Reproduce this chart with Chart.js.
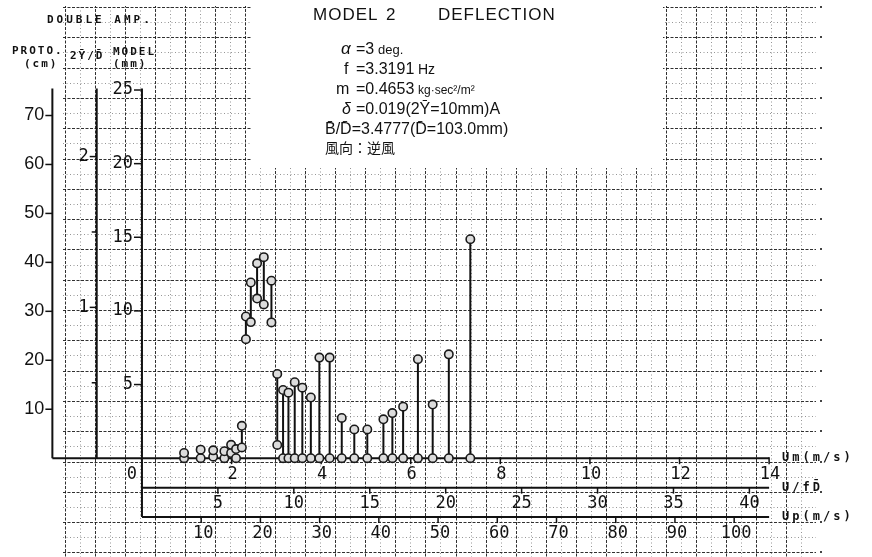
<!DOCTYPE html>
<html>
<head>
<meta charset="utf-8">
<script src="https://cdn.jsdelivr.net/npm/chart.js@4.4.0/dist/chart.umd.min.js"></script>
<style>
  html, body { margin: 0; padding: 0; background: #fff; }
  #myChart { display: block; }
</style>
</head>
<body>
<canvas id="myChart" width="872" height="557"></canvas>
<script>
// wind speed Um (m/s) of each run
const umValues = [0.94, 1.31, 1.59, 1.84, 1.99, 2.10, 2.23, 2.32, 2.43, 2.57, 2.72, 2.89, 3.02, 3.15, 3.27, 3.41, 3.58, 3.77, 3.96, 4.19, 4.46, 4.74, 5.03, 5.39, 5.59, 5.83, 6.16, 6.49, 6.85, 7.33];
// double amp. of model (mm) : lower / upper end of each bar
const lowValues = [0, 0, 0.1, 0, 0.35, 0, 0.73, 8.08, 9.24, 10.84, 10.44, 9.22, 0.9, 0, 0, 0, 0, 0, 0, 0, 0, 0, 0, 0, 0, 0, 0, 0, 0, 0];
const highValues = [0.35, 0.58, 0.53, 0.47, 0.91, 0.62, 2.2, 9.62, 11.93, 13.23, 13.65, 12.05, 5.72, 4.63, 4.45, 5.16, 4.79, 4.12, 6.83, 6.83, 2.73, 1.95, 1.95, 2.64, 3.06, 3.5, 6.72, 3.64, 7.05, 14.87];

// tick labels
const umTicks = [0, 2, 4, 6, 8, 10, 12, 14];
const ufdTicks = [5, 10, 15, 20, 25, 30, 35, 40];
const upTicks = [10, 20, 30, 40, 50, 60, 70, 80, 90, 100];
const modelTicks = [5, 10, 15, 20, 25];
const protoTicks = [10, 20, 30, 40, 50, 60, 70];
const ratioTicks = [1, 2];
const ratioHalfTicks = [0.5, 1.5];

// unit conversions to the model axes (Um m/s, model mm)
const UFD_TO_UM = 0.339;
const UP_TO_UM = 0.1322;
const PROTO_TO_MM = 0.3324;
const RATIO_TO_MM = 10.24;
// where the extra axes sit (in Um / mm)
const PROTO_AT = -2.0, RATIO_AT = -1.01, UFD_AT = -2.0, UP_AT = -4.0, AXIS_TOP = 25.1;

const MONO = '"DejaVu Sans Mono", monospace';
const SANS = '"Liberation Sans", Arial, sans-serif';

// stems: two points per run and a gap
const stemData = [];
const dotData = [];
for (let i = 0; i < umValues.length; i++) {
  stemData.push({x: umValues[i], y: lowValues[i]}, {x: umValues[i], y: highValues[i]}, {x: umValues[i], y: null});
  dotData.push({x: umValues[i], y: lowValues[i]}, {x: umValues[i], y: highValues[i]});
}

const paperGrid = {
  id: 'paperGrid',
  beforeDraw(chart) {
    const c = chart.ctx;
    c.save();
    c.fillStyle = '#fff';
    c.fillRect(0, 0, chart.width, chart.height);
    c.restore();
  },
  beforeDatasetsDraw(chart) {
    const c = chart.ctx;
    c.save();
    c.beginPath();
    c.moveTo(62, 6); c.lineTo(252, 6); c.lineTo(252, 168); c.lineTo(663, 168);
    c.lineTo(663, 6); c.lineTo(816, 6); c.lineTo(816, 557); c.lineTo(62, 557);
    c.closePath();
    c.clip();
    c.lineWidth = 1;
    // fine dotted lines
    c.strokeStyle = 'rgba(80,80,80,0.6)';
    c.setLineDash([1, 2.5]);
    for (let k = -3; k < 22; k++) {
      const gx = Math.round(155 + 30.05 * (k + 0.5)) + 0.5;
      c.beginPath(); c.moveTo(gx, 0); c.lineTo(gx, 557); c.stroke();
    }
    for (let k = -3; k < 16; k++) {
      const gy = Math.round(461.5 - 30.3 * (k + 0.5)) + 0.5;
      c.beginPath(); c.moveTo(0, gy); c.lineTo(872, gy); c.stroke();
    }
    // main lines
    c.strokeStyle = 'rgba(25,25,25,0.9)';
    c.setLineDash([3, 1.5]);
    for (let k = -3; k <= 22; k++) {
      const gx = Math.round(155 + 30.05 * k) + 0.5;
      c.beginPath(); c.moveTo(gx, 0); c.lineTo(gx, 557); c.stroke();
    }
    for (let k = -3; k <= 15; k++) {
      const gy = Math.round(461.5 - 30.3 * k) + 0.5;
      c.beginPath(); c.moveTo(0, gy); c.lineTo(872, gy); c.stroke();
    }
    c.restore();
    // right margin dots
    c.save();
    c.fillStyle = '#444';
    for (let k = -3; k <= 15; k++) {
      c.fillRect(820, Math.round(461.5 - 30.3 * k) - 1, 2, 2);
    }
    c.restore();

    // axes
    const xs = chart.scales.x, ys = chart.scales.y;
    const px = v => xs.getPixelForValue(v);
    const py = v => ys.getPixelForValue(v);
    c.save();
    c.strokeStyle = '#111';
    c.lineWidth = 2;
    const seg = (x1, y1, x2, y2) => { c.beginPath(); c.moveTo(x1, y1); c.lineTo(x2, y2); c.stroke(); };
    seg(px(PROTO_AT), py(0), px(14), py(0));
    seg(px(0), py(AXIS_TOP), px(0), py(UP_AT));
    seg(px(RATIO_AT), py(AXIS_TOP), px(RATIO_AT), py(0));
    seg(px(PROTO_AT), py(AXIS_TOP), px(PROTO_AT), py(0));
    seg(px(0), py(UFD_AT), px(14), py(UFD_AT));
    seg(px(0), py(UP_AT), px(14), py(UP_AT));

    c.lineWidth = 1.5;
    c.fillStyle = '#111';
    c.textBaseline = 'middle';
    // Um
    c.font = '17px ' + MONO;
    c.textAlign = 'center';
    umTicks.forEach(v => {
      if (v > 0) seg(px(v), py(0) - 1, px(v), py(0) + 6);
      c.fillText(String(v), v === 0 ? px(v) - 10 : px(v) + 1, py(0) + 16);
    });
    // U/fD
    ufdTicks.forEach(v => {
      seg(px(v * UFD_TO_UM), py(UFD_AT), px(v * UFD_TO_UM), py(UFD_AT) + 6);
      c.fillText(String(v), px(v * UFD_TO_UM), py(UFD_AT) + 16);
    });
    // Up
    upTicks.forEach(v => {
      seg(px(v * UP_TO_UM), py(UP_AT), px(v * UP_TO_UM), py(UP_AT) + 6);
      c.fillText(String(v), px(v * UP_TO_UM) + 2, py(UP_AT) + 16);
    });
    // model mm
    c.textAlign = 'right';
    modelTicks.forEach(v => {
      seg(px(0) - 8, py(v), px(0), py(v));
      c.fillText(String(v), px(0) - 9, py(v));
    });
    // 2Y/D
    ratioTicks.forEach(v => {
      seg(px(RATIO_AT) - 7, py(v * RATIO_TO_MM), px(RATIO_AT), py(v * RATIO_TO_MM));
      c.fillText(String(v), px(RATIO_AT) - 8, py(v * RATIO_TO_MM));
    });
    ratioHalfTicks.forEach(v => {
      seg(px(RATIO_AT) - 5, py(v * RATIO_TO_MM), px(RATIO_AT), py(v * RATIO_TO_MM));
    });
    // proto cm
    c.font = '18px ' + SANS;
    protoTicks.forEach(v => {
      seg(px(PROTO_AT) - 7, py(v * PROTO_TO_MM), px(PROTO_AT), py(v * PROTO_TO_MM));
      c.fillText(String(v), px(PROTO_AT) - 8, py(v * PROTO_TO_MM));
    });
    c.restore();
  },
  afterDraw(chart) {
    const c = chart.ctx;
    const xs = chart.scales.x, ys = chart.scales.y;
    const px = v => xs.getPixelForValue(v);
    const py = v => ys.getPixelForValue(v);
    c.save();
    c.fillStyle = '#111';
    c.textBaseline = 'middle';
    c.textAlign = 'left';
    // axis headings
    c.font = 'bold 11px ' + MONO;
    c.letterSpacing = '3px';
    c.fillText('DOUBLE AMP.', 47, 20);
    c.letterSpacing = '2px';
    c.fillText('PROTO.', 12, 51);
    c.fillText('(cm)', 24, 64);
    c.fillText('2\u0232/D\u0304', 70, 56);
    c.fillText('MODEL', 113, 52);
    c.fillText('(mm)', 113, 64);
    c.font = 'bold 12px ' + MONO;
    c.letterSpacing = '3px';
    c.fillText('Um(m/s)', px(14) + 13, py(0));
    c.fillText('U/fD\u0304', px(14) + 13, py(UFD_AT));
    c.fillText('Up(m/s)', px(14) + 13, py(UP_AT));
    c.letterSpacing = '0px';

    // title block
    c.textBaseline = 'alphabetic';
    c.font = '17px ' + SANS;
    c.letterSpacing = '1px';
    c.fillText('MODEL', 313, 20);
    c.fillText('2', 386, 20);
    c.fillText('DEFLECTION', 438, 20);
    c.letterSpacing = '0px';

    const row = (y, parts) => {
      parts.forEach(p => {
        c.font = p[2];
        c.fillText(p[0], p[1], y);
      });
    };
    const big = '16px ' + SANS, small = '12px ' + SANS;
    row(54, [['\u03b1', 341, 'italic 17px ' + SANS], ['=3', 356, big], ['deg.', 378, '13px ' + SANS]]);
    row(74, [['f', 344, big], ['=3.3191', 356, big], ['Hz', 418, '14px ' + SANS]]);
    row(94, [['m', 336, big], ['=0.4653', 356, big], ['kg\u00b7sec\u00b2/m\u00b2', 418, small]]);
    row(114, [['\u03b4', 342, 'italic 16px ' + SANS], ['=0.019(2\u0232=10mm)A', 356, big]]);
    row(134, [['B\u0304/D\u0304=3.4777(D\u0304=103.0mm)', 325, big]]);
    row(153, [['\u98a8\u5411\uff1a\u9006\u98a8', 325, '14px "Noto Sans CJK JP"']]);
    c.restore();
  }
};

new Chart(document.getElementById('myChart').getContext('2d'), {
  type: 'scatter',
  data: {
    datasets: [
      {
        type: 'line',
        data: stemData,
        borderColor: '#111',
        borderWidth: 2,
        pointRadius: 0,
        spanGaps: false,
        fill: false,
        order: 2
      },
      {
        data: dotData,
        pointRadius: 4.2,
        pointBorderWidth: 1.6,
        borderColor: '#1a1a1a',
        backgroundColor: '#dcdcdc',
        order: 1
      }
    ]
  },
  options: {
    responsive: false,
    animation: false,
    devicePixelRatio: 1,
    layout: { padding: 0 },
    scales: {
      x: { type: 'linear', min: -138 / 45.4, max: (872 - 138) / 45.4, display: false },
      y: { type: 'linear', min: -(557 - 462) / 15.04, max: 462 / 15.04, display: false }
    },
    plugins: {
      legend: { display: false },
      tooltip: { enabled: false }
    }
  },
  plugins: [paperGrid]
});
</script>
</body>
</html>
